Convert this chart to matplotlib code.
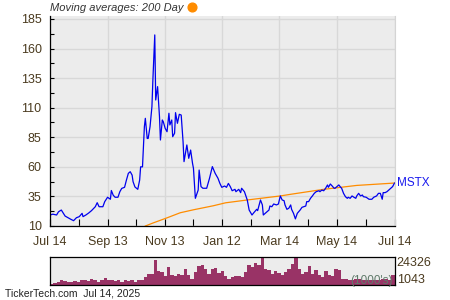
import numpy as np
import matplotlib
matplotlib.use("Agg")
import matplotlib.pyplot as plt
from matplotlib.lines import Line2D

plt.rcParams['font.family'] = ['Liberation Sans', 'DejaVu Sans']

# jours depuis le 14 juil. 2024
price_days = [0, 3, 7, 9, 12, 14, 16, 19, 22, 25, 28, 31, 34, 35, 38, 41, 44, 48, 50, 52,
              56, 58, 61, 64, 65, 67, 69, 72, 74, 76, 79, 81, 83, 85, 87, 88, 90, 93, 95, 96,
              98, 100, 101, 103, 104, 106, 108, 109, 111, 112, 114, 116, 117, 119, 120, 122, 124, 126, 127, 129,
              130, 132, 133, 135, 137, 139, 141, 142, 145, 147, 149, 151, 152, 154, 157, 158, 160, 162, 166, 169,
              172, 175, 178, 180, 182, 185, 187, 189, 191, 193, 196, 197, 200, 202, 203, 206, 209, 211, 214, 216,
              219, 220, 223, 225, 226, 228, 230, 232, 233, 235, 237, 240, 242, 244, 246, 248, 249, 251, 253, 255,
              256, 258, 260, 262, 265, 267, 271, 272, 274, 276, 278, 280, 282, 285, 286, 288, 290, 292, 294, 295,
              297, 299, 301, 302, 304, 306, 308, 309, 311, 313, 315, 316, 318, 320, 322, 324, 325, 327, 329, 331,
              332, 335, 338, 341, 343, 346, 348, 350, 352, 353, 355, 357, 359, 361, 363, 365]
price = [19.3, 20, 19.3, 22, 23.5, 21, 18.4, 17, 15.7, 14.5, 17, 17.9, 20.7, 17.9, 19.3, 21, 23, 26.3, 29.7, 26.3,
         26.3, 30.6, 34.3, 32.6, 40, 36, 34.3, 34.3, 39, 41.8, 42.7, 48.9, 54.5, 55.9, 53, 47.5, 43, 41, 48.9, 60,
         60, 94, 101, 84, 84, 94, 111, 133.4, 171.5, 116.5, 127.8, 102.4, 82.7, 99.6, 98.2, 92.6, 89.7, 105.3, 95.4, 99.6,
         85.5, 88.4, 105.8, 96.8, 104.4, 103.8, 81, 64.4, 78.5, 67.2, 74.2, 63, 58.7, 33.4, 40.4, 57.3, 43.3, 41.9, 41.9, 50.3,
         60.2, 54.5, 50.3, 46, 42.7, 43.8, 42.7, 46, 43.3, 39.8, 41, 39, 41, 38.2, 41.9, 39, 32, 23.5, 19.3, 21.3,
         24.1, 23, 32, 27.8, 19.3, 20.7, 22.1, 23.5, 26.9, 26.3, 28.6, 27.8, 28.6, 35.4, 32, 31.4, 27.8, 24.1, 25, 27.8,
         24, 20.7, 16, 20.7, 23.5, 25.8, 26.9, 30.6, 30.6, 33.4, 35.4, 37.6, 39, 39.8, 39, 40.4, 39.8, 41.9, 44.7, 42.7,
         45.5, 43.8, 41.9, 41.9, 43.3, 44.7, 42.7, 41.9, 37.6, 34.8, 33.4, 34.3, 33.4, 35.4, 34.3, 33.4, 35.4, 37.6, 35.4, 36.2,
         34.8, 34.3, 32.6, 32.6, 34.3, 35.4, 37.6, 37.6, 32.6, 38.2, 38.2, 39, 40.4, 41.9, 43.3, 46.3]

# moyenne mobile 200 jours
ma_days = [101, 109, 124, 138, 152, 173, 186, 209, 244, 255, 290, 325, 365]
ma = [10, 12.5, 16.9, 21.2, 23.7, 27.1, 29.6, 32, 35.4, 36.8, 41, 44.3, 46.3]

# volume (milliers)
volume = [2150, 2980, 3540, 4920, 4650, 3540, 3540, 4090, 3540, 4920,
          5480, 4370, 6310, 4920, 3820, 5480, 7140, 4920, 5480, 4370,
          5480, 3540, 4920, 4370, 5480, 3540, 4920, 5480, 7700, 9910,
          10470, 22110, 12690, 11850, 8250, 16010, 9080, 8250, 9910, 9080,
          14630, 9080, 6310, 11850, 16570, 17400, 14630, 10470, 14630, 15460,
          11020, 12690, 8250, 6310,
          7700, 8250, 8250, 7700, 11850, 17400, 16010, 19340, 17400, 24326,
          14630, 13240, 9910, 12690, 11020, 9080, 11850, 14630, 18780, 24326,
          14630, 10470, 11850, 16570, 9910, 13240, 9080, 7700, 12690, 9080,
          8250, 14630, 13240, 6310, 6310, 5480, 5480, 6310, 6310, 5480,
          5480, 4920, 4920, 5480, 5480, 6310, 6310, 4920, 9080]
vol_min, vol_max = 1043, 24326

tick_days = [0, 61, 122, 182, 243, 304, 365]
tick_labels = ['Jul 14', 'Sep 13', 'Nov 13', 'Jan 12', 'Mar 14', 'May 14', 'Jul 14']
y_ticks = [10, 35, 60, 85, 110, 135, 160, 185]

label_col = '#4a3a1e'

fig = plt.figure(figsize=(4.5, 3), dpi=100)

# graphique principal
ax = fig.add_axes([50/450, 74/300, 344.5/450, 210/300])
ax.set_facecolor('#ececec')
ax.set_axisbelow(True)
ax.plot(ma_days, ma, color='#ff8c00', lw=0.9)
ax.plot(price_days, price, color='#0000ee', lw=0.9)
ax.set_xlim(0, 365)
ax.set_ylim(10, 187.5)
ax.set_xticks(tick_days)
ax.set_xticklabels(tick_labels)
ax.set_xticks([(a + b) / 2 for a, b in zip(tick_days[:-1], tick_days[1:])], minor=True)
ax.set_yticks(y_ticks)
ax.set_yticks([(a + b) / 2 for a, b in zip(y_ticks[:-1], y_ticks[1:])], minor=True)
ax.grid(which='major', color='#d8d8d8', lw=1)
ax.tick_params(axis='x', which='both', direction='in', length=5, width=0.8, pad=7,
               labelsize=9, labelcolor=label_col)
ax.tick_params(axis='y', which='both', direction='in', length=3, width=0.8, pad=6,
               labelsize=9, labelcolor=label_col)
ax.spines['top'].set_visible(False)
ax.spines['right'].set_color('#d4d4d4')
ax.spines['left'].set_linewidth(0.9)
ax.spines['bottom'].set_linewidth(0.9)
ax.text(1.006, price[-1], 'MSTX', transform=ax.get_yaxis_transform(),
        color='#1a1aee', fontsize=8.5, va='center', ha='left')

# volume
axv = fig.add_axes([50/450, 15/300, 344.5/450, 28/300])
axv.set_facecolor('#ececec')
step = 365 / len(volume)
vol_days = np.arange(len(volume)) * step + step / 2
axv.bar(vol_days, volume, width=step, color='#993366', linewidth=0)
axv.set_xlim(0, 365)
axv.set_ylim(vol_min, vol_max)
axv.set_xticks([])
axv.set_yticks([])
for s in axv.spines.values():
    s.set_linewidth(0.9)
axv.text(1.006, 1.0, str(vol_max), transform=axv.transAxes, fontsize=9,
         color=label_col, va='top', ha='left')
axv.text(1.006, -0.02, str(vol_min), transform=axv.transAxes, fontsize=9,
         color=label_col, va='bottom', ha='left')
axv.text(0.995, 0.15, "(1000's)", transform=axv.transAxes, fontsize=8.5,
         color='#5f7a6a', va='center', ha='right')

# textes
fig.text(50/450, 1 - 8/300, 'Moving averages: 200 Day', fontsize=8, style='italic',
         color='#333333', va='center', ha='left')
fig.add_artist(Line2D([192/450], [1 - 7/300], marker='o', markersize=6.3,
                      color='#ff8c00', transform=fig.transFigure))
fig.text(5/450, 1 - 294/300, 'TickerTech.com  Jul 14, 2025', fontsize=7.5,
         color='#222222', va='center', ha='left')

fig.savefig('out.png', dpi=100)
